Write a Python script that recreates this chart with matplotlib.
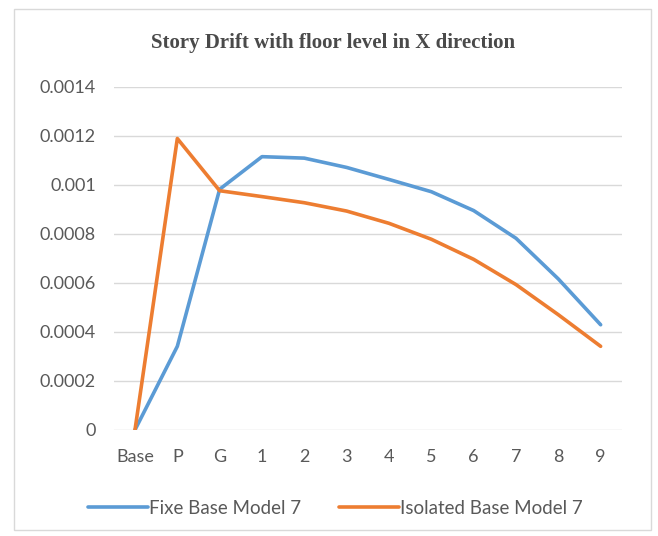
import matplotlib.pyplot as plt
from matplotlib.patches import Rectangle

floors = ["Base", "P", "G", "1", "2", "3", "4", "5", "6", "7", "8", "9"]
fixed_base = [0, 0.000341, 0.000982, 0.001115, 0.001109, 0.001071, 0.001022,
              0.000972, 0.000895, 0.000782, 0.000616, 0.000429]
isolated_base = [0, 0.001189, 0.000976, 0.000952, 0.000927, 0.000893, 0.000843,
                 0.000778, 0.000696, 0.000593, 0.000470, 0.000341]

plt.rcParams['font.family'] = ['Lato', 'DejaVu Sans']
fig = plt.figure(figsize=(6.58, 5.36), dpi=100)
ax = fig.add_axes([0.173, 0.198, 0.772, 0.64])

x = range(len(floors))
ax.plot(x, fixed_base, color='#5B9BD5', lw=2.6, solid_capstyle='round',
        label='Fixe Base Model 7')
ax.plot(x, isolated_base, color='#ED7D31', lw=2.6, solid_capstyle='round',
        label='Isolated Base Model 7')

ax.set_xlim(-0.5, len(floors) - 0.5)
ax.set_ylim(0, 0.0014)
ax.set_yticks([0, 0.0002, 0.0004, 0.0006, 0.0008, 0.001, 0.0012, 0.0014])
ax.set_yticklabels(["0", "0.0002", "0.0004", "0.0006", "0.0008", "0.001",
                    "0.0012", "0.0014"])
ax.set_xticks(list(x))
ax.set_xticklabels(floors)
ax.tick_params(length=0, labelsize=13, colors='#595959')
ax.tick_params(axis='x', pad=14)
ax.tick_params(axis='y', pad=13)
ax.grid(axis='y', color='#D9D9D9', lw=1)
ax.set_axisbelow(True)
for s in ax.spines.values():
    s.set_visible(False)

fig.text(0.506, 0.92, "Story Drift with floor level in X direction",
         ha='center', va='center', fontsize=15, fontweight='bold',
         family='Liberation Serif', color='#4a4a4a')

fig.legend(loc='center', bbox_to_anchor=(0.51, 0.052), ncol=2, frameon=False,
           fontsize=13.5, handlelength=3.2, handletextpad=0.05, columnspacing=2.0,
           labelcolor='#595959')

fig.patches.append(Rectangle((0.021, 0.012), 0.969, 0.972, transform=fig.transFigure,
                             fill=False, edgecolor='#D9D9D9', lw=1))

fig.savefig('out.png', dpi=100)
